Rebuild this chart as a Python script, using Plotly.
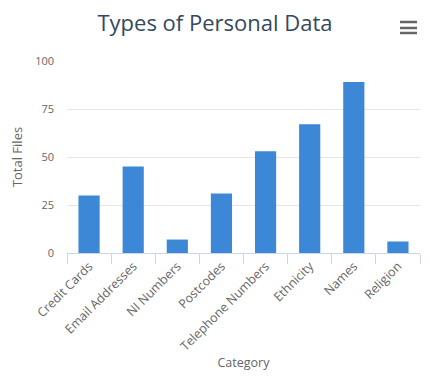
import plotly.graph_objects as go

categories = ["Credit Cards", "Email Addresses", "NI Numbers", "Postcodes",
              "Telephone Numbers", "Ethnicity", "Names", "Religion"]
total_files = [30, 45, 7, 31, 53, 67, 89, 6]
y_ticks = [0, 25, 50, 75, 100]

# page body has an 8px margin, so the figure is drawn 8px in from the window edge
W, H = 422, 372
ml, mr, mt, mb = 59, 10, 53, 127
OFF = 8

fig = go.Figure(go.Bar(x=categories, y=total_files, marker_color="#3d87d7",
                       marker_line_width=0, width=0.48))

fig.update_layout(
    width=W, height=H,
    margin=dict(l=ml, r=mr, t=mt, b=mb, pad=0, autoexpand=False),
    paper_bgcolor="white", plot_bgcolor="white",
    font=dict(family="Open Sans", color="#666666", size=11),
    title=dict(text="Types of Personal Data", x=(215 - OFF) / W, xanchor="center",
               y=1 - (23 - OFF) / H, yanchor="middle",
               font=dict(family="Open Sans", size=22, color="#34495e")),
    showlegend=False,
    bargap=0.52,
)
fig.update_xaxes(
    automargin=False,
    showline=True, linecolor="#ccd6eb", linewidth=1,
    ticks="outside", tickson="boundaries", ticklen=10, tickcolor="#ccd6eb",
    tickangle=-45, tickfont=dict(size=12.5, color="#666666"),
    title=dict(text="Category", font=dict(size=12.5, color="#666666"), standoff=0),
    showgrid=False,
)
fig.update_yaxes(
    automargin=False,
    range=[0, 100], tickvals=y_ticks, showgrid=True, gridcolor="#e6e6e6",
    zeroline=False, showline=False, ticks="", ticklabelstandoff=12,
    tickfont=dict(size=11, color="#666666"),
    title=dict(text="Total Files", font=dict(size=13, color="#666666"), standoff=12),
)

# export menu icon (three bars)
pw = W - ml - mr
ph = H - mt - mb
for yy in [22, 28, 33]:
    yp = 1 + (mt - (yy - OFF)) / ph
    fig.add_shape(type="line", xref="paper", yref="paper",
                  x0=(400 - OFF - ml) / pw, x1=(417 - OFF - ml) / pw,
                  y0=yp, y1=yp,
                  line=dict(color="#666666", width=2.5))

fig.write_html("out.html")
